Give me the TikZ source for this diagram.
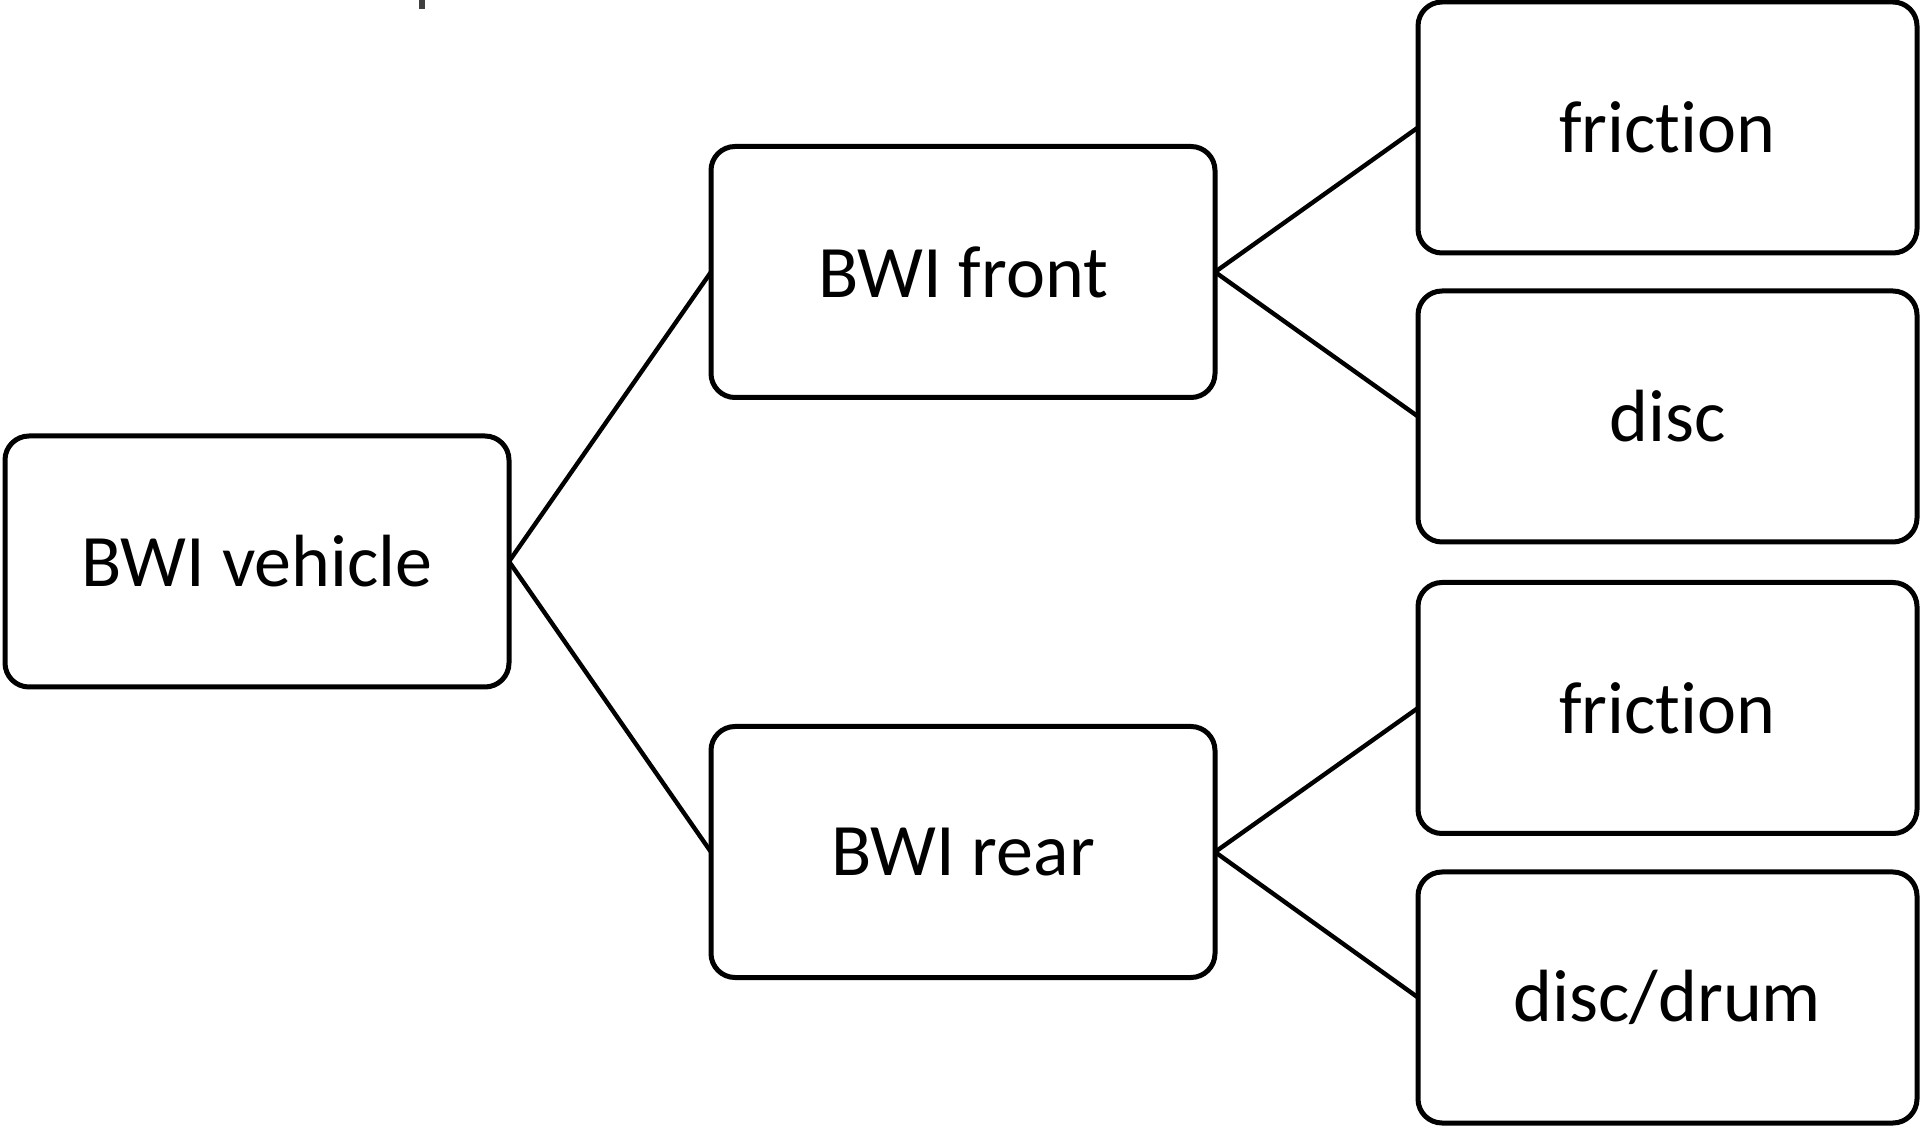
\documentclass[tikz,border=0pt]{standalone}
\usepackage{fontspec}
\setmainfont{Carlito}[Ligatures={NoCommon,NoRare,NoContextual}]
\begin{document}
\begin{tikzpicture}[x=0.5pt,y=-0.5pt,
  box/.style={draw=black,line width=2.5pt,rounded corners=12pt,fill=white,
    minimum width=252pt,minimum height=125.5pt,inner sep=0pt,outer sep=0pt,
    font=\fontsize{37}{44}\selectfont},
  rbox/.style={box,minimum width=249.5pt},
  conn/.style={draw=black,line width=2.2pt}]
\useasboundingbox (0,0) rectangle (1928,1127);
\fill[white] (0,0) rectangle (1928,1127);
\fill[black!75] (419,0) rectangle (425,9);
\node[box] (veh) at (257,561.5) {BWI vehicle};
\node[box] (front) at (963,272) {BWI front};
\node[box] (rear) at (963,852) {BWI rear};
\node[rbox] (f1) at (1667.5,127.5) {friction};
\node[rbox] (d1) at (1667.5,416.5) {disc};
\node[rbox] (f2) at (1667.5,708) {friction};
\node[rbox] (d2) at (1667.5,997.5) {disc/drum};
\draw[conn] (veh.east) -- (front.west);
\draw[conn] (veh.east) -- (rear.west);
\draw[conn] (front.east) -- (f1.west);
\draw[conn] (front.east) -- (d1.west);
\draw[conn] (rear.east) -- (f2.west);
\draw[conn] (rear.east) -- (d2.west);
\end{tikzpicture}
\end{document}
